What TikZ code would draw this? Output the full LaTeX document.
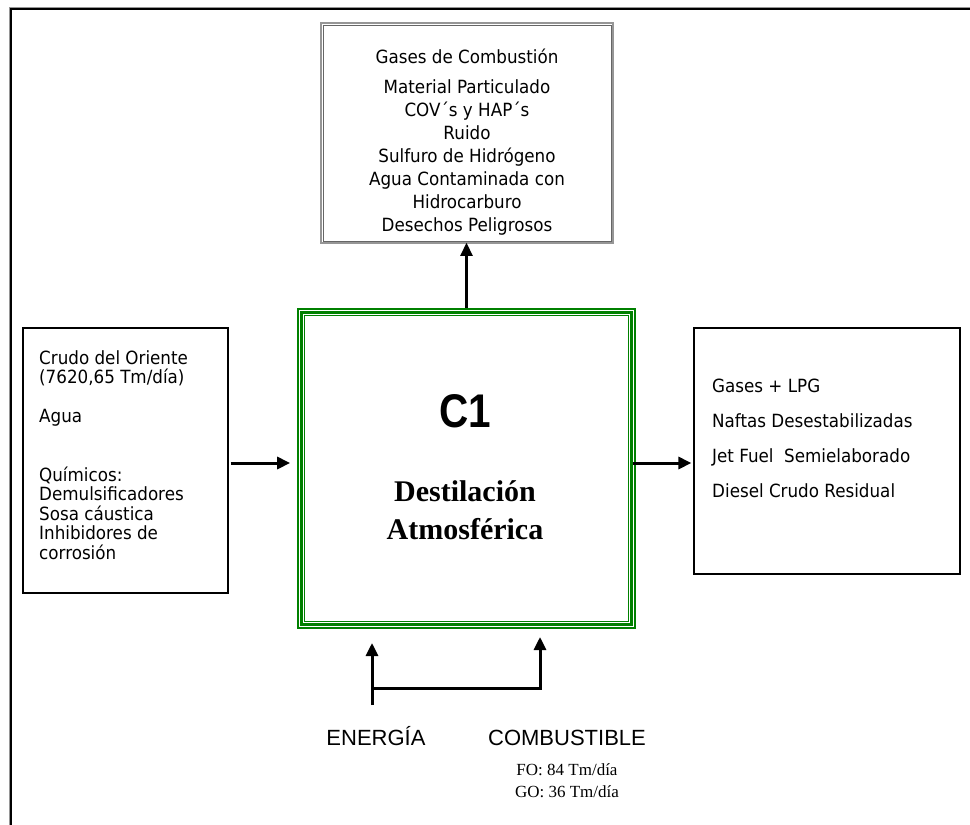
\documentclass[tikz,border=0pt]{standalone}
\usepackage{fontspec}
\usepackage{graphicx}
\usetikzlibrary{arrows.meta}
\newfontfamily\verd[FakeStretch=0.92]{DejaVu Sans}
\newfontfamily\arial{Liberation Sans}
\newfontfamily\tnr{Liberation Serif}
\definecolor{unitgreen}{RGB}{0,128,0}
\definecolor{framegray}{RGB}{150,150,150}

\begin{document}
\begin{tikzpicture}[x=1pt,y=-1pt,
  plainbox/.style={draw, line width=1.2pt, rectangle, inner sep=0pt},
  vtext/.style={font=\verd\fontsize{18.2}{20}\selectfont, inner sep=0pt},
  atext/.style={font=\arial\fontsize{22}{24}\selectfont, inner sep=0pt},
  ttext/.style={font=\tnr\fontsize{17}{19}\selectfont, inner sep=0pt},
  flow/.style={line width=3pt, -{Triangle[length=13pt,width=12pt]}},
  flowthin/.style={line width=2.2pt, -{Triangle[length=13pt,width=12pt]}}]

\useasboundingbox (0,0) rectangle (970,825);

% page frame: open on the right and bottom
\draw[framegray, line width=1.2pt] (9.3,825) -- (9.3,7.5) -- (970,7.5);
\draw[line width=1.5pt] (10.8,825) -- (10.8,9) -- (970,9);

% inputs
\node[plainbox, minimum width=205pt, minimum height=265pt] (in) at (125.5,460.5) {};
\foreach \txt/\yy [count=\i] in {Crudo del Oriente/364, {(7620,65 Tm/día)}/383.5,
    Agua/422, Químicos:/481, Demulsificadores/500.5, Sosa cáustica/520,
    Inhibidores de/539.5, corrosión/559}
  \node[vtext, anchor=base west] (inL\i) at (39,\yy) {\txt};

% emissions (double gray border)
\node[draw=framegray, line width=1.5pt, rectangle, inner sep=0pt,
      minimum width=292pt, minimum height=220pt] (em) at (467,133) {};
\draw[draw=gray!80!black, line width=0.7pt]
  ([shift={(2.6pt,-2.6pt)}]em.north west) rectangle ([shift={(-2.6pt,2.6pt)}]em.south east);
\foreach \txt/\yy [count=\i] in {Gases de Combustión/63, Material Particulado/93,
    COV´s y HAP´s/116, Ruido/139, Sulfuro de Hidrógeno/162,
    Agua Contaminada con/185, Hidrocarburo/208, Desechos Peligrosos/231}
  \node[vtext, anchor=base] (emL\i) at (467,\yy) {\txt};

% process unit (triple green border)
\node[draw=unitgreen, line width=1.7pt, rectangle, inner sep=0pt,
      minimum width=337pt, minimum height=319pt] (c1) at (466.5,468.5) {};
\draw[unitgreen, line width=3.3pt]
  ([shift={(4.3pt,-4.3pt)}]c1.north west) rectangle ([shift={(-4.3pt,4.3pt)}]c1.south east);
\draw[unitgreen, line width=1pt]
  ([shift={(7.8pt,-7.8pt)}]c1.north west) rectangle ([shift={(-7.8pt,7.8pt)}]c1.south east);
\node[inner sep=0pt, anchor=base] (c1name) at (465,427)
  {\scalebox{0.9}[1.05]{\arial\bfseries\fontsize{45}{45}\selectfont C1}};
\node[font=\tnr\bfseries\fontsize{30}{32}\selectfont, inner sep=0pt, anchor=base]
  (c1t1) at (465,501) {Destilación};
\node[font=\tnr\bfseries\fontsize{30}{32}\selectfont, inner sep=0pt, anchor=base]
  (c1t2) at (465,539) {Atmosférica};

% outputs
\node[plainbox, minimum width=266pt, minimum height=246pt] (out) at (827,451) {};
\foreach \txt/\yy [count=\i] in {Gases + LPG/392, Naftas Desestabilizadas/427,
    Jet Fuel\ \ Semielaborado/462, Diesel Crudo Residual/497}
  \node[vtext, anchor=base west] (outL\i) at (712,\yy) {\txt};

% utilities
\node[atext, anchor=base] (energy) at (376,745) {ENERGÍA};
\node[atext, anchor=base] (fuel) at (567,745) {COMBUSTIBLE};
\node[ttext, anchor=base] (fuelFO) at (567,775) {FO: 84 Tm/día};
\node[ttext, anchor=base] (fuelGO) at (567,797) {GO: 36 Tm/día};

% main flows
\coordinate (a1) at ([yshift=-2.5pt]in.east);
\draw[flow, shorten <=2pt, shorten >=7pt] (a1) -- (a1 -| c1.west);
\path (c1.east |- a1) coordinate (a2);
\draw[flow, shorten <=-3pt, shorten >=2pt] (a2) -- (a2 -| out.west);
\draw[flowthin, shorten >=-1pt] (c1.north) -- (c1.north |- em.south);

% utility feed lines
\coordinate (e0) at (372,705);
\coordinate (e1) at (372,643);
\coordinate (f0) at (540,688);
\coordinate (f1) at (540,637);
\draw[flow] (e0) -- (e1);
\draw[flow, line join=miter] (e0 |- f0) -- (f0) -- (f1);

\end{tikzpicture}
\end{document}
